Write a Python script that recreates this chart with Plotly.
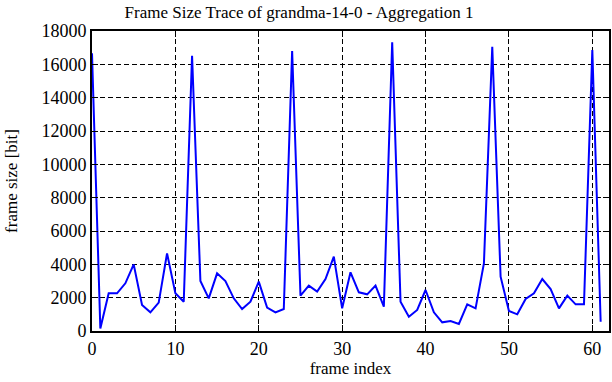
import plotly.graph_objects as go

frame_index = list(range(62))
frame_size = [16660, 150, 2260, 2260, 2860, 4000, 1560, 1120, 1700, 4660,
              2260, 1760, 16520, 3000, 1960, 3460, 3000, 1960, 1320, 1760,
              2960, 1400, 1120, 1320, 16800, 2120, 2720, 2360, 3120, 4460,
              1360, 3520, 2320, 2200, 2720, 1460, 17320, 1760, 860, 1260,
              2460, 1120, 520, 600, 420, 1600, 1360, 4060, 17060, 3260,
              1200, 1000, 1920, 2260, 3120, 2520, 1360, 2120, 1600, 1600,
              16860, 560]

x_ticks = [0, 10, 20, 30, 40, 50, 60]
y_ticks = [0, 2000, 4000, 6000, 8000, 10000, 12000, 14000, 16000, 18000]

title_text = "Frame Size Trace of grandma-14-0 - Aggregation 1"
x_title = "frame index"
y_title = "frame size [bit]"

font_family = "Liberation Serif, Times New Roman, serif"

fig = go.Figure()
fig.add_trace(go.Scatter(x=frame_index, y=frame_size, mode="lines",
                         line=dict(color="#0000ff", width=2), showlegend=False))

axis_common = dict(
    showline=True, linecolor="black", linewidth=2, mirror="ticks",
    ticks="inside", ticklen=6, tickwidth=1, tickcolor="black",
    showgrid=True, gridcolor="black", gridwidth=1, griddash="5px,3px",
    zeroline=False, automargin=False,
    tickfont=dict(family=font_family, size=18, color="black"),
)

fig.update_layout(
    width=612, height=382,
    margin=dict(l=92, r=3, t=31, b=51, autoexpand=False),
    paper_bgcolor="white", plot_bgcolor="white",
    font=dict(family=font_family, size=17, color="black"),
    title=dict(text=title_text, x=299 / 612, xanchor="center",
               y=1 - 12 / 382, yanchor="middle",
               font=dict(family=font_family, size=17, color="black")),
    xaxis=dict(range=[0, 62], tickvals=x_ticks, ticktext=[str(v) for v in x_ticks],
               title=dict(text=x_title, standoff=5,
                          font=dict(family=font_family, size=17)),
               **axis_common),
    yaxis=dict(range=[0, 18000], tickvals=y_ticks, ticktext=[str(v) for v in y_ticks],
               title=dict(text=y_title, standoff=19,
                          font=dict(family=font_family, size=17)),
               **axis_common),
)

fig.write_html("out.html", config={"displayModeBar": False},
               post_script="document.body.style.margin='0';document.body.style.padding='0';")
